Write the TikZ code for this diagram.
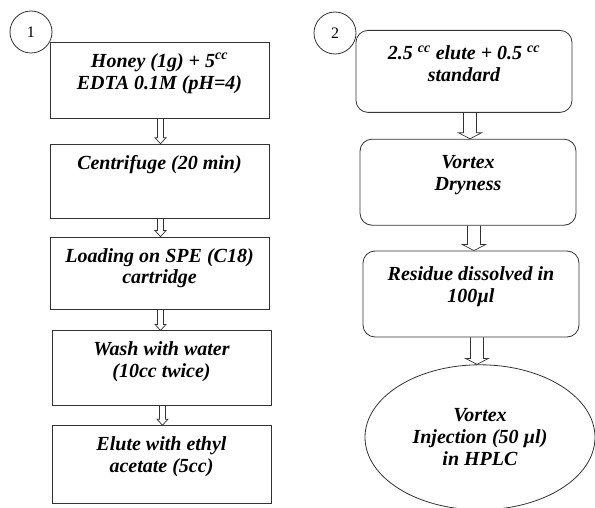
\documentclass[tikz,border=0pt]{standalone}
\usepackage{fontspec}
\setmainfont{Liberation Serif}
\usetikzlibrary{shapes.geometric, positioning, calc}

\begin{document}
\begin{tikzpicture}[
    x=1pt, y=-1pt,
    box/.style={draw=black!80, line width=0.8pt, inner sep=0pt,
                font=\fontsize{20}{22}\selectfont\bfseries\itshape},
    lbox/.style={box,
                 execute at begin node={\begin{minipage}[t][#1][t]{219pt}\centering\vspace*{9.6pt}\strut},
                 execute at end node={\end{minipage}}},
    rbox/.style={box, rounded corners=12pt,
                 execute at begin node={\begin{minipage}[t][#1][t]{216pt}\centering\vspace*{14pt}\strut},
                 execute at end node={\end{minipage}}},
    ell/.style={box, ellipse, minimum width=230pt, minimum height=145pt, align=center},
    num/.style={circle, draw=black!80, line width=0.8pt, minimum size=42pt,
                inner sep=0pt, font=\fontsize{16}{18}\selectfont},
    harrow/.style n args={4}{draw=black!80, line width=0.7pt,
      to path={let \p1=($(\tikztostart)+(#4,0)$), \p2=(\tikztotarget) in
        (\x1-#1,\y1) -- (\x1-#1,\y2+#3) -- (\x1-#2,\y2+#3) -- (\x1,\y2)
        -- (\x1+#2,\y2+#3) -- (\x1+#1,\y2+#3) -- (\x1+#1,\y1)}},
    larrow/.style={harrow={3pt}{5.5pt}{6pt}{1}},
    rarrow/.style={harrow={6.5pt}{11.5pt}{6pt}{6}}
  ]

    \useasboundingbox (0,0) rectangle (595,508);

    % Step numbers
    \node[num] (n1) at (31,32) {1};
    \node[num] (n2) at (335,33) {2};

    % Extraction
    \node[lbox=76pt, anchor=north] (honey) at (159.5,42)
      {Honey (1g) + 5\textsuperscript{cc}\\EDTA 0.1M (pH=4)};
    \node[lbox=74pt, below=25pt of honey] (centri) {Centrifuge (20 min)};
    \node[lbox=72pt, below=18pt of centri] (load) {Loading on SPE (C18)\\cartridge};
    \node[lbox=75pt, below=21pt of load, xshift=2pt] (wash) {Wash with water\\(10cc twice)};
    \node[lbox=78pt, below=19pt of wash] (elute) {Elute with ethyl\\acetate (5cc)};

    % Analysis
    \node[rbox=82pt, anchor=north] (std) at (464,30)
      {2.5 \textsuperscript{cc} elute + 0.5 \textsuperscript{cc}\\standard};
    \node[rbox=86pt, below=26pt of std, xshift=4pt] (vortex) {Vortex\\Dryness};
    \node[rbox=86pt, below=25pt of vortex, xshift=3pt] (residue) {Residue dissolved in\\100µl};
    \node[ell, below=27pt of residue, xshift=9pt] (inject) {Vortex\\Injection (50 µl)\\in HPLC};

    % Arrows
    \draw[larrow] (honey.south)  to (centri.north);
    \draw[larrow] (centri.south) to (load.north);
    \draw[larrow] (load.south)   to (wash.north);
    \draw[larrow] (wash.south)   to (elute.north);
    \draw[rarrow] (std.south)     to (vortex.north);
    \draw[rarrow] (vortex.south)  to (residue.north);
    \draw[rarrow] (residue.south) to (inject.north);

  \end{tikzpicture}
\end{document}
